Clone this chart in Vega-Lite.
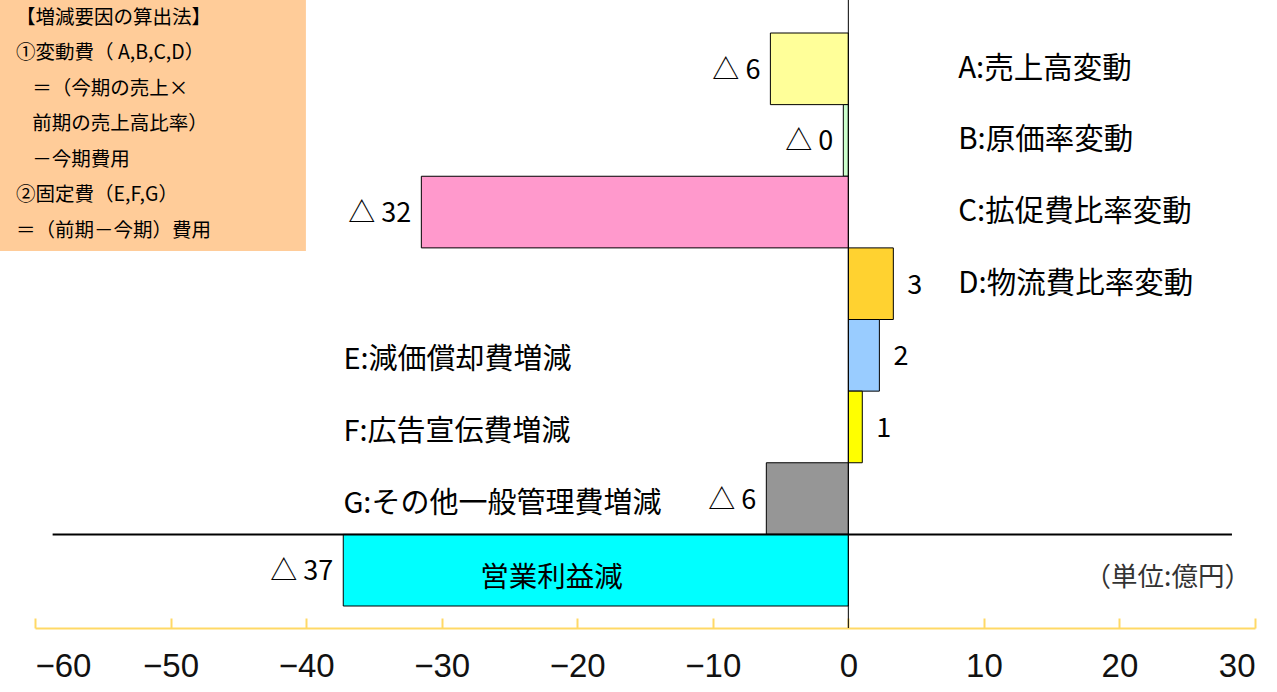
{
  "$schema": "https://vega.github.io/schema/vega-lite/v6.json",
  "width": 1277,
  "height": 628,
  "autosize": "none",
  "padding": {"left": 0, "top": 0, "right": 0, "bottom": 64},
  "background": "white",
  "config": {"view": {"stroke": null}, "font": "Noto Sans CJK JP"},
  "datasets": {
    "bars": [
      {"cat": "A", "name": "A:売上高変動", "value": -5.75, "label": "△ 6"},
      {"cat": "B", "name": "B:原価率変動", "value": -0.37, "label": "△ 0"},
      {"cat": "C", "name": "C:拡促費比率変動", "value": -31.5, "label": "△ 32"},
      {"cat": "D", "name": "D:物流費比率変動", "value": 3.32, "label": "3"},
      {"cat": "E", "name": "E:減価償却費増減", "value": 2.29, "label": "2"},
      {"cat": "F", "name": "F:広告宣伝費増減", "value": 1.03, "label": "1"},
      {"cat": "G", "name": "G:その他一般管理費増減", "value": -6.05, "label": "△ 6"},
      {"cat": "T", "name": "営業利益減", "value": -37.26, "label": "△ 37"}
    ],
    "note": [
      {"line": 1, "text": "【増減要因の算出法】"},
      {"line": 2, "text": "①変動費（ A,B,C,D）"},
      {"line": 3, "text": "＝（今期の売上×"},
      {"line": 4, "text": "前期の売上高比率）"},
      {"line": 5, "text": "－今期費用"},
      {"line": 6, "text": "②固定費（E,F,G）"},
      {"line": 7, "text": "＝（前期－今期）費用"}
    ]
  },
  "resolve": {"scale": {"y": "independent"}},
  "layer": [
    {
      "data": {"name": "note"},
      "layer": [
        {
          "mark": {"type": "rect", "color": "#FFCC99"},
          "encoding": {
            "x": {"datum": -62.6, "type": "quantitative"},
            "x2": {"datum": -40.06},
            "y": {"datum": 0.5, "type": "quantitative", "scale": {"domain": [0.5, 7.5], "range": [0, 248.5]}, "axis": null},
            "y2": {"datum": 7.57}
          }
        },
        {
          "transform": [{"filter": "datum.line < 3 || datum.line > 5"}],
          "mark": {"type": "text", "align": "left", "baseline": "middle", "fontSize": 19.5, "font": "Noto Sans CJK JP", "color": "#000"},
          "encoding": {
            "x": {"datum": -61.4, "type": "quantitative"},
            "y": {"field": "line", "type": "quantitative", "scale": {"domain": [0.5, 7.5], "range": [0, 248.5]}, "axis": null},
            "text": {"field": "text"}
          }
        },
        {
          "transform": [{"filter": "datum.line >= 3 && datum.line <= 5"}],
          "mark": {"type": "text", "align": "left", "baseline": "middle", "fontSize": 19.5, "font": "Noto Sans CJK JP", "color": "#000"},
          "encoding": {
            "x": {"datum": -60.2, "type": "quantitative"},
            "y": {"field": "line", "type": "quantitative", "scale": {"domain": [0.5, 7.5], "range": [0, 248.5]}, "axis": null},
            "text": {"field": "text"}
          }
        }
      ]
    },
    {
      "data": {"name": "bars"},
      "layer": [
        {
          "mark": {"type": "bar", "stroke": "#000", "strokeWidth": 1},
          "encoding": {
            "y": {"field": "cat", "type": "nominal", "scale": {"domain": ["A", "B", "C", "D", "E", "F", "G", "T"], "range": [33, 606], "paddingInner": 0, "paddingOuter": 0}, "axis": null},
            "x": {
              "field": "value", "type": "quantitative",
              "scale": {"domain": [-60, 30], "range": [35, 1255], "nice": false, "zero": false},
              "axis": {
                "values": [-60, -50, -40, -30, -20, -10, 0, 10, 20, 30],
                "format": "d",
                "title": null,
                "grid": false,
                "domainColor": "#FFD966",
                "domainWidth": 2,
                "tickColor": "#FFD966",
                "tickWidth": 2,
                "tickSize": -10,
                "labelFontSize": 33,
                "labelFont": "Liberation Sans",
                "labelColor": "#111",
                "labelPadding": 32
              }
            },
            "color": {
              "field": "cat", "type": "nominal", "legend": null,
              "scale": {"domain": ["A", "B", "C", "D", "E", "F", "G", "T"], "range": ["#FFFF99", "#CCFFCC", "#FF99CC", "#FFD230", "#99CCFF", "#FFFF00", "#969696", "#00FFFF"]}
            }
          }
        },
        {
          "mark": {"type": "rule", "color": "#000", "strokeWidth": 2},
          "transform": [{"filter": "datum.cat === 'T'"}],
          "encoding": {
            "y": {"field": "cat", "type": "nominal", "bandPosition": 0},
            "x": {"datum": -58.7, "type": "quantitative"},
            "x2": {"datum": 28.3}
          }
        },
        {
          "data": {"values": [{}]},
          "mark": {"type": "rule", "color": "#000", "strokeWidth": 1},
          "encoding": {"x": {"datum": 0, "type": "quantitative"}}
        },
        {
          "transform": [{"filter": "datum.value < 0"}],
          "mark": {"type": "text", "align": "right", "baseline": "middle", "dx": -10, "dy": 2, "fontSize": 27, "font": "Noto Sans CJK JP", "color": "#000"},
          "encoding": {
            "y": {"field": "cat", "type": "nominal"},
            "x": {"field": "value", "type": "quantitative"},
            "text": {"field": "label"}
          }
        },
        {
          "transform": [{"filter": "datum.value >= 0"}],
          "mark": {"type": "text", "align": "left", "baseline": "middle", "dx": 14, "dy": 2, "fontSize": 27, "font": "Noto Sans CJK JP", "color": "#000"},
          "encoding": {
            "y": {"field": "cat", "type": "nominal"},
            "x": {"field": "value", "type": "quantitative"},
            "text": {"field": "label"}
          }
        },
        {
          "transform": [{"filter": "indexof(['A','B','C','D'], datum.cat) >= 0"}],
          "mark": {"type": "text", "align": "left", "baseline": "middle", "fontSize": 29.5, "font": "Noto Sans CJK JP", "color": "#000"},
          "encoding": {
            "y": {"field": "cat", "type": "nominal"},
            "x": {"datum": 8.1, "type": "quantitative"},
            "text": {"field": "name"}
          }
        },
        {
          "transform": [{"filter": "indexof(['E','F','G'], datum.cat) >= 0"}],
          "mark": {"type": "text", "align": "left", "baseline": "middle", "dy": 5, "fontSize": 29, "font": "Noto Sans CJK JP", "color": "#000"},
          "encoding": {
            "y": {"field": "cat", "type": "nominal"},
            "x": {"datum": -37.25, "type": "quantitative"},
            "text": {"field": "name"}
          }
        },
        {
          "transform": [{"filter": "datum.cat === 'T'"}],
          "mark": {"type": "text", "align": "left", "baseline": "middle", "dy": 8, "fontSize": 28.5, "font": "Noto Sans CJK JP", "color": "#000"},
          "encoding": {
            "y": {"field": "cat", "type": "nominal"},
            "x": {"datum": -27.15, "type": "quantitative"},
            "text": {"field": "name"}
          }
        },
        {
          "data": {"values": [{"cat": "T", "unit": "（単位:億円）"}]},
          "mark": {"type": "text", "align": "right", "baseline": "middle", "dy": 8, "fontSize": 26.5, "font": "Noto Sans CJK JP", "color": "#333"},
          "encoding": {
            "y": {"field": "cat", "type": "nominal"},
            "x": {"datum": 29.7, "type": "quantitative"},
            "text": {"field": "unit"}
          }
        }
      ]
    }
  ]
}
